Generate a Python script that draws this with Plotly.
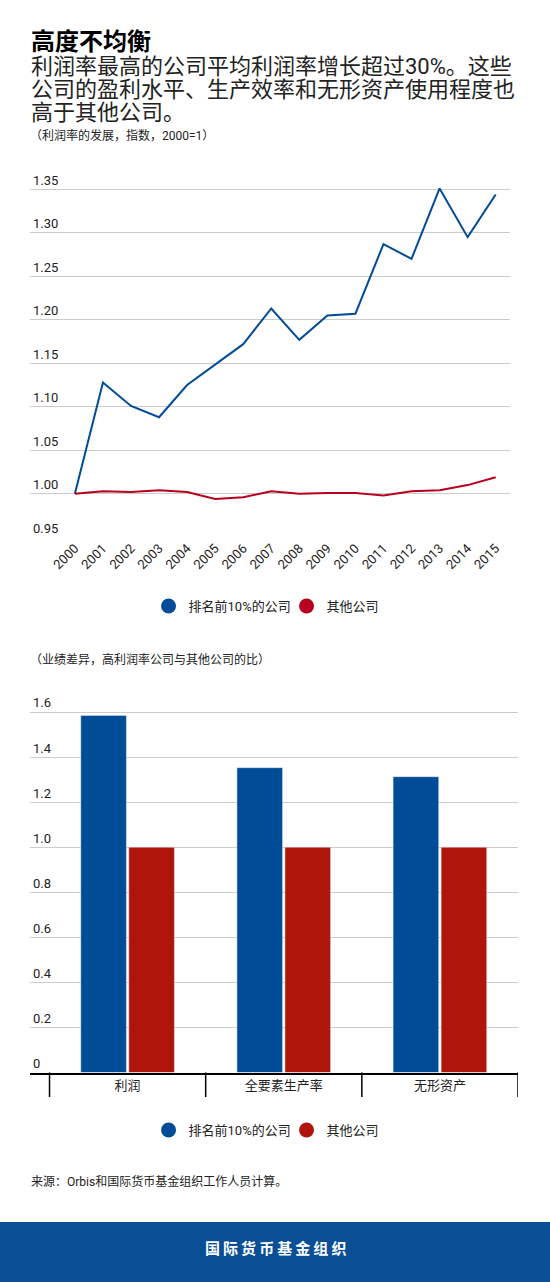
import plotly.graph_objects as go

# -----------------------------
# data
# -----------------------------
years = list(range(2000, 2016))
top10 = [1.000, 1.128, 1.101, 1.088, 1.125, 1.148, 1.172, 1.213,
         1.177, 1.205, 1.207, 1.287, 1.270, 1.351, 1.295, 1.344]
others = [1.000, 1.003, 1.002, 1.004, 1.002, 0.994, 0.996, 1.003,
          1.000, 1.001, 1.001, 0.998, 1.003, 1.004, 1.010, 1.019]

line_ticks = [0.95, 1.00, 1.05, 1.10, 1.15, 1.20, 1.25, 1.30, 1.35]

categories = ['利润', '全要素生产率', '无形资产']
bar_top10 = [1.585, 1.353, 1.313]
bar_others = [1.0, 1.0, 1.0]

bar_ticks = [0, 0.2, 0.4, 0.6, 0.8, 1.0, 1.2, 1.4, 1.6]
bar_ticktext = ['0', '0.2', '0.4', '0.6', '0.8', '1.0', '1.2', '1.4', '1.6']

series_names = ['排名前10%的公司', '其他公司']

W, H = 550, 1282
FONT = 'Roboto, Noto Sans CJK SC, sans-serif'
BLUE = '#004c97'
RED_LINE = '#b7001f'
RED_BAR = '#b0150c'
GRID = '#cccccc'
TXT = '#222222'


def px_x(p):
    return p / W


def px_y(p):
    return 1 - p / H


fig = go.Figure()

# line chart
fig.add_trace(go.Scatter(x=years, y=top10, mode='lines', line=dict(color=BLUE, width=2),
                         showlegend=False, xaxis='x', yaxis='y'))
fig.add_trace(go.Scatter(x=years, y=others, mode='lines', line=dict(color=RED_LINE, width=2),
                         showlegend=False, xaxis='x', yaxis='y'))
# legend dots for line chart
for name, col in zip(series_names, [BLUE, RED_LINE]):
    fig.add_trace(go.Scatter(x=[None], y=[None], mode='markers', name=name,
                             marker=dict(color=col, size=15), legend='legend',
                             xaxis='x', yaxis='y'))

# bar chart
fig.add_trace(go.Bar(x=categories, y=bar_top10, marker_color=BLUE, showlegend=False,
                     xaxis='x2', yaxis='y2'))
fig.add_trace(go.Bar(x=categories, y=bar_others, marker_color=RED_BAR, showlegend=False,
                     xaxis='x2', yaxis='y2'))
for name, col in zip(series_names, [BLUE, RED_BAR]):
    fig.add_trace(go.Scatter(x=[None], y=[None], mode='markers', name=name,
                             marker=dict(color=col, size=15), legend='legend2',
                             xaxis='x2', yaxis='y2'))

# separators under the category axis
shapes = []
for i in range(len(categories) + 1):
    shapes.append(dict(type='line', xref='x2', yref='paper', x0=i - 0.5, x1=i - 0.5,
                       y0=px_y(1072.5), y1=px_y(1097), line=dict(color='black', width=1.5)))
# footer band
shapes.append(dict(type='rect', xref='paper', yref='paper', x0=0, x1=1,
                   y0=0, y1=px_y(1222), fillcolor='#0a4f96', line_width=0, layer='below'))

ann = [
    dict(text='<b>高度不均衡</b>', x=px_x(29), y=px_y(42), size=24, color='#000000'),
    dict(text='利润率最高的公司平均利润率增长超过30%。这些', x=px_x(29), y=px_y(67), size=22, color=TXT),
    dict(text='公司的盈利水平、生产效率和无形资产使用程度也', x=px_x(29), y=px_y(89.5), size=22, color=TXT),
    dict(text='高于其他公司。', x=px_x(29), y=px_y(112), size=22, color=TXT),
    dict(text='（利润率的发展，指数，2000=1）', x=px_x(28), y=px_y(135), size=12, color=TXT),
    dict(text='（业绩差异，高利润率公司与其他公司的比）', x=px_x(28), y=px_y(659), size=12, color=TXT),
    dict(text='来源：Orbis和国际货币基金组织工作人员计算。', x=px_x(29), y=px_y(1181), size=12, color=TXT),
]
annotations = [dict(text=a['text'], x=a['x'], y=a['y'], xref='paper', yref='paper',
                    xanchor='left', yanchor='middle', showarrow=False,
                    font=dict(family=FONT, size=a['size'], color=a['color'])) for a in ann]
annotations.append(dict(text='<b>' + '\u2009'.join('国际货币基金组织') + '</b>',
                        x=0.5, y=px_y(1249), xref='paper', yref='paper',
                        xanchor='center', yanchor='middle', showarrow=False,
                        font=dict(family=FONT, size=15, color='white')))

legend_common = dict(orientation='h', x=0.521, xanchor='center', yanchor='middle',
                     font=dict(size=13, color=TXT), itemwidth=30,
                     entrywidth=93, entrywidthmode='pixels', bgcolor='rgba(0,0,0,0)')

fig.update_layout(
    width=W, height=H,
    margin=dict(l=0, r=0, t=0, b=0),
    paper_bgcolor='white', plot_bgcolor='white',
    font=dict(family=FONT, size=13, color=TXT),
    barmode='group', bargap=0.385, bargroupgap=0.05,
    xaxis=dict(domain=[px_x(30), px_x(510)], range=[1998.4, 2015.51],
               tickvals=years, tickangle=-45, showgrid=False, zeroline=False,
               showline=False, ticks='', tickfont=dict(size=13, color=TXT),
               automargin=False, anchor='y'),
    yaxis=dict(domain=[px_y(537.3), px_y(167.55)], range=[0.95, 1.375],
               tickvals=line_ticks, tickformat='.2f', ticklabelposition='inside top',
               showgrid=True, gridcolor=GRID, gridwidth=1, zeroline=False,
               tickfont=dict(size=13, color=TXT), automargin=False, anchor='x'),
    xaxis2=dict(domain=[px_x(30), px_x(518)], range=[-0.625, 2.5],
                showgrid=False, zeroline=False, showline=True, linecolor='black',
                linewidth=2, ticks='', tickfont=dict(size=13, color=TXT),
                automargin=False, anchor='y2'),
    yaxis2=dict(domain=[px_y(1072.5), px_y(689.5)], range=[0, 1.7],
                tickvals=bar_ticks, ticktext=bar_ticktext, ticklabelposition='inside top',
                showgrid=True, gridcolor=GRID, gridwidth=1, zeroline=False,
                tickfont=dict(size=13, color=TXT), automargin=False, anchor='x2'),
    legend=dict(legend_common, y=px_y(606)),
    legend2=dict(legend_common, y=px_y(1130)),
    shapes=shapes,
    annotations=annotations,
)

# page has a default 8px body margin; drop it so the figure sits flush
fig.write_html('out.html', config={'displayModeBar': False},
               post_script="document.body.style.margin='0';")
